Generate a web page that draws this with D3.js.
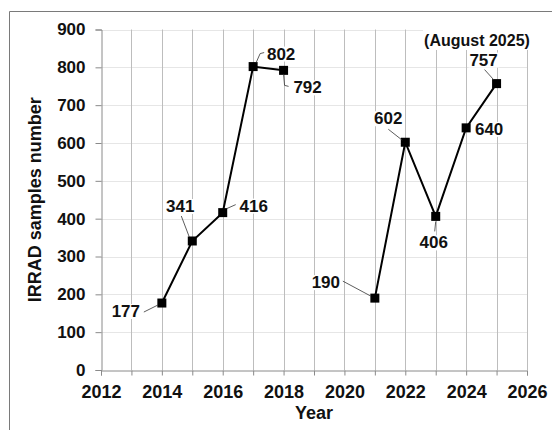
<!DOCTYPE html>
<html>
<head>
<meta charset="utf-8">
<script src="https://cdn.jsdelivr.net/npm/d3@7"></script>
<style>
  body { margin: 0; background: #fff; }
  svg text { font-family: "Liberation Sans", Arial, sans-serif; font-weight: bold; fill: #111; }
</style>
</head>
<body>
<svg id="chart" width="552" height="430"></svg>
<script>
// data
var years = [2014, 2015, 2016, 2017, 2018, 2021, 2022, 2023, 2024, 2025];
var samples = [177, 341, 416, 802, 792, 190, 602, 406, 640, 757];
var xTicks = [2012, 2014, 2016, 2018, 2020, 2022, 2024, 2026];
var yTicks = [0, 100, 200, 300, 400, 500, 600, 700, 800, 900];
var note = "(August 2025)";

// label placement, pixels relative to each marker: text dx/dy, leader points
var labelLayout = [
  { dx: -36, dy: 14, lead: [-18, 9, -4, 2] },
  { dx: -12, dy: -29, lead: [-11, -25, -3, -4] },
  { dx: 31, dy: -1, lead: [4, -4, 13, -8] },
  { dx: 28, dy: -7, lead: [3, -4, 7, -13, 11, -14] },
  { dx: 24, dy: 23, lead: [0, 4, 1, 15, 5, 16] },
  { dx: -49, dy: -10, lead: [-32, -17, -4, -2] },
  { dx: -17, dy: -18, lead: [-17, -13, -3, -2] },
  { dx: -2, dy: 32, lead: [0, 5, -1, 15] },
  { dx: 23, dy: 7, lead: null },
  { dx: -13, dy: -18, lead: [-12, -14, -3, -4] }
];

(function () {
  var data = years.map(function (d, i) { return { year: d, value: samples[i], lab: labelLayout[i] }; });

  var svg = d3.select("#chart");
  var left = 101, right = 527, plotTop = 29.5, bottom = 370;

  var x = d3.scaleLinear().domain([2012, 2026]).range([left, right]);
  var y = d3.scaleLinear().domain([0, 900]).range([bottom, plotTop]);

  // outer frame (only top and left edges are visible)
  svg.append("path")
    .attr("d", "M9.5,430 V11.5 H552")
    .attr("fill", "none")
    .attr("stroke", "#7a7a7a");

  // horizontal grid
  svg.append("g")
    .selectAll("line")
    .data(yTicks.slice(1))
    .join("line")
      .attr("x1", left).attr("x2", right)
      .attr("y1", function (d) { return Math.round(y(d)) + 0.5; })
      .attr("y2", function (d) { return Math.round(y(d)) + 0.5; })
      .attr("stroke", "#e6e6e6");

  // vertical grid, every year
  svg.append("g")
    .selectAll("line")
    .data(d3.range(2013, 2027))
    .join("line")
      .attr("x1", function (d) { return Math.round(x(d)) + 0.5; })
      .attr("x2", function (d) { return Math.round(x(d)) + 0.5; })
      .attr("y1", plotTop).attr("y2", bottom)
      .attr("stroke", "#bdbdbd");

  // axes
  var xAxis = svg.append("g")
    .attr("transform", "translate(0," + (bottom + 0.5) + ")")
    .call(d3.axisBottom(x).tickValues(d3.range(2012, 2027)).tickSize(5).tickFormat(function (d) {
      return xTicks.indexOf(d) >= 0 ? d : "";
    }));
  xAxis.select(".domain").attr("stroke", "#8a8a8a");
  xAxis.selectAll(".tick line").attr("stroke", "#8a8a8a");
  xAxis.selectAll("text").attr("font-size", 18).attr("dy", "1.1em").attr("fill", "#111");

  var yAxis = svg.append("g")
    .attr("transform", "translate(" + (left + 0.5) + ",0)")
    .call(d3.axisLeft(y).tickValues(yTicks).tickSize(6).tickPadding(10));
  yAxis.select(".domain").attr("stroke", "#8a8a8a");
  yAxis.selectAll(".tick line").attr("stroke", "#8a8a8a");
  yAxis.selectAll("text").attr("font-size", 17).attr("fill", "#111");

  // axis titles
  svg.append("text")
    .attr("x", (left + right) / 2).attr("y", 419)
    .attr("text-anchor", "middle")
    .attr("font-size", 18)
    .text("Year");

  svg.append("text")
    .attr("transform", "translate(41," + (plotTop + bottom) / 2 + ") rotate(-90)")
    .attr("text-anchor", "middle")
    .attr("font-size", 18)
    .text("IRRAD samples number");

  // line, in two pieces because 2019-2020 are missing
  var line = d3.line()
    .x(function (d) { return x(d.year); })
    .y(function (d) { return y(d.value); });

  var segs = [data.filter(function (d) { return d.year <= 2018; }), data.filter(function (d) { return d.year >= 2021; })];
  svg.append("g")
    .selectAll("path")
    .data(segs)
    .join("path")
      .attr("d", line)
      .attr("fill", "none")
      .attr("stroke", "#000")
      .attr("stroke-width", 2);

  // markers
  svg.append("g")
    .selectAll("rect")
    .data(data)
    .join("rect")
      .attr("x", function (d) { return x(d.year) - 4.5; })
      .attr("y", function (d) { return y(d.value) - 4.5; })
      .attr("width", 9).attr("height", 9)
      .attr("fill", "#000");

  // note label with white box
  svg.append("rect")
    .attr("x", 423).attr("y", 26).attr("width", 108).attr("height", 24)
    .attr("fill", "#fff");
  svg.append("text")
    .attr("x", 477).attr("y", 46)
    .attr("text-anchor", "middle")
    .attr("font-size", 16)
    .text(note);

  // leader lines
  svg.append("g")
    .selectAll("polyline")
    .data(data.filter(function (d) { return d.lab.lead; }))
    .join("polyline")
      .attr("points", function (d) {
        var cx = x(d.year), cy = y(d.value), p = d.lab.lead, out = [];
        for (var i = 0; i < p.length; i += 2) out.push((cx + p[i]) + "," + (cy + p[i + 1]));
        return out.join(" ");
      })
      .attr("fill", "none")
      .attr("stroke", "#333")
      .attr("stroke-width", 0.8);

  // value labels
  var labels = svg.append("g")
    .selectAll("g")
    .data(data)
    .join("g")
      .attr("transform", function (d) { return "translate(" + (x(d.year) + d.lab.dx) + "," + (y(d.value) + d.lab.dy) + ")"; });
  labels.append("rect")
    .attr("x", -15).attr("y", -13).attr("width", 30).attr("height", 15)
    .attr("fill", "#fff");
  labels.append("text")
    .attr("text-anchor", "middle")
    .attr("font-size", 17)
    .text(function (d) { return d.value; });
})();
</script>
</body>
</html>
